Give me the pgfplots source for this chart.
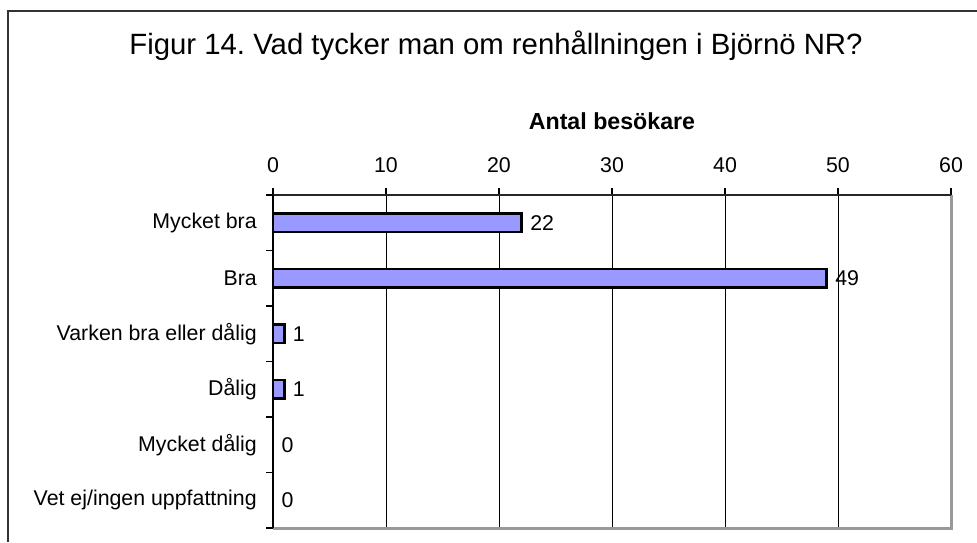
\documentclass[border=0pt]{standalone}
\usepackage{fontspec}
\setmainfont{Liberation Sans}
\usepackage{pgfplots}
\pgfplotsset{compat=1.18}
\frenchspacing
\definecolor{barfill}{HTML}{9999FF}
\definecolor{framecol}{HTML}{333333}
\definecolor{plotborder}{HTML}{999999}
\begin{document}
\begin{tikzpicture}
\useasboundingbox (0,0) rectangle (732.75pt,-406.5pt);
\draw[framecol, line width=1.5pt] (6pt,-406.5pt) -- (6pt,-8.25pt) -- (732.75pt,-8.25pt);
\node[anchor=base, inner sep=0pt, font=\fontsize{22}{26}\selectfont] at (372pt,-41.25pt) {Figur 14.\ Vad tycker man om renhållningen i Björnö NR?};
\begin{axis}[
  at={(204.75pt,-396pt)}, anchor=south west,
  width=508.5pt, height=249.75pt, scale only axis,
  axis x line=top, axis y line=left,
  axis line style={-, black, line width=1pt},
  xmin=0, xmax=60, xtick={0,10,...,60},
  ymin=-0.5, ymax=5.5, y dir=reverse,
  ytick={-0.5,0.5,...,5.5}, yticklabels={},
  extra y ticks={0,1,2,3,4,5},
  extra y tick labels={Mycket bra,Bra,Varken bra eller dålig,Dålig,Mycket dålig,Vet ej/ingen uppfattning},
  extra y tick style={major tick length=0pt, yticklabel style={anchor=east, inner sep=0pt, xshift=-12pt}},
  tick align=outside,
  major tick length=5pt,
  xmajorgrids, major grid style={black, line width=0.6pt},
  tick style={black, line width=0.8pt},
  tick label style={font=\fontsize{16}{19}\selectfont},
  /pgf/number format/assume math mode=true,
  xticklabel style={anchor=base, inner sep=0pt, yshift=12pt},
  xlabel={Antal besökare},
  xlabel style={at={(axis description cs:0.5,1)}, anchor=base, inner sep=0pt, yshift=49pt, font=\fontsize{17.4}{20}\selectfont\bfseries},
  clip=false,
]
\addplot[xbar, fill=barfill, draw=black, line width=2pt, bar width=13.75pt,
  nodes near coords,
  nodes near coords style={font=\fontsize{16}{19}\selectfont, anchor=west, inner sep=0pt, xshift=5.5pt, /pgf/number format/assume math mode=true}]
  coordinates {(22,0) (49,1) (1,2) (1,3) (0,4) (0,5)};
\draw[plotborder, line width=2.25pt] (axis description cs:1,1) -- (axis description cs:1,0) -- (axis description cs:0,0);
\draw[black!85, line width=1.5pt] (axis description cs:0,1) -- (axis description cs:1,1);
\draw[black, line width=1pt] (axis description cs:0,0) -- (axis description cs:0,1);
\end{axis}
\end{tikzpicture}
\end{document}
